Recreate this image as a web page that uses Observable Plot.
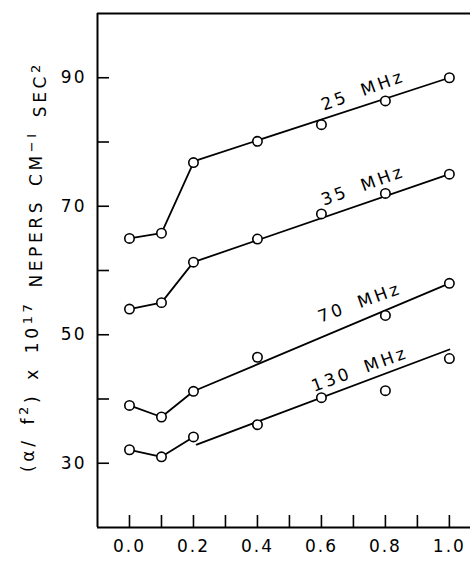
<!DOCTYPE html>
<html>
<head>
<meta charset="utf-8">
<script src="https://cdn.jsdelivr.net/npm/d3@7"></script>
<script src="https://cdn.jsdelivr.net/npm/@observablehq/plot@0.6"></script>
<style>
  html, body { margin: 0; padding: 0; background: #fff; }
  #chart svg { display: block; }
</style>
</head>
<body>
<div id="chart"></div>
<script>
// ---- data ----
const xValues = [0.0, 0.1, 0.2, 0.4, 0.6, 0.8, 1.0];
const mhz25  = [65.0, 65.8, 76.8, 80.1, 82.7, 86.4, 90.0];
const mhz35  = [54.0, 55.0, 61.3, 64.9, 68.8, 72.0, 75.0];
const mhz70  = [39.0, 37.2, 41.2, 46.5, null, 53.0, 58.0];
const mhz130 = [32.1, 31.0, 34.1, 36.0, 40.2, 41.3, 46.3];
const seriesNames = ["25 MHz", "35 MHz", "70 MHz", "130 MHz"];

// fitted straight lines (start x, start y, end x, end y)
const fitX1 = [0.2, 0.2, 0.2, 0.21];
const fitY1 = [77.0, 61.3, 41.2, 32.9];
const fitX2 = [1.0, 1.0, 1.0, 1.0];
const fitY2 = [90.0, 75.0, 58.0, 47.7];

// label positions (centre) for the rotated series labels
const labelX = [0.73, 0.73, 0.72, 0.72];
const labelY = [88.0, 73.2, 55.0, 44.6];

const xTickValues = [0, 0.1, 0.2, 0.3, 0.4, 0.5, 0.6, 0.7, 0.8, 0.9, 1.0];
const xTickLabels = [0, 0.2, 0.4, 0.6, 0.8, 1.0];
const yTickValues = [30, 40, 50, 60, 70, 80, 90];
const yTickLabels = [30, 50, 70, 90];
// y title pieces: [text, isSuperscript]
const yTitleParts = [["(\u03b1/ f", 0], ["2", 1], [") x 10", 0], ["17", 1], [" NEPERS CM", 0], ["\u2212I", 1], [" SEC", 0], ["2", 1]];
const yAxisLabel = yTitleParts.map(p => p[0]).join("");

// ---- build tables ----
const allSeries = [mhz25, mhz35, mhz70, mhz130];
const points = [];
const kinks = [];
allSeries.forEach((vals, s) => {
  vals.forEach((v, i) => {
    if (v == null) return;
    points.push({series: seriesNames[s], x: xValues[i], y: v});
    if (i <= 2) kinks.push({series: seriesNames[s], x: xValues[i], y: v});
  });
});
const fits = [];
seriesNames.forEach((name, s) => {
  fits.push({series: name, x: fitX1[s], y: fitY1[s]});
  fits.push({series: name, x: fitX2[s], y: fitY2[s]});
});
const labels = seriesNames.map((name, s) => ({text: name, x: labelX[s], y: labelY[s]}));

const font = "'DejaVu Sans', sans-serif";

const chart = Plot.plot({
  width: 470,
  height: 568,
  marginLeft: 97,
  marginRight: 0,
  marginTop: 13,
  marginBottom: 41,
  style: {fontFamily: font, fontSize: "16px", color: "#000", background: "#fff"},
  x: {domain: [-0.1, 1.066], axis: null},
  y: {domain: [20, 100], axis: null},
  marks: [
    // frame lines
    Plot.ruleX([-0.1], {stroke: "#000", strokeWidth: 2}),
    Plot.ruleY([20], {stroke: "#000", strokeWidth: 2}),
    Plot.ruleY([100], {stroke: "#000", strokeWidth: 2}),
    // inward ticks
    Plot.axisY(yTickValues, {tickSize: -12, fill: "none", label: null, stroke: "#000", strokeWidth: 1.6}),
    Plot.axisX(xTickValues, {tickSize: -12, fill: "none", label: null, stroke: "#000", strokeWidth: 1.6}),
    // tick labels
    Plot.axisY(yTickLabels, {tickSize: 0, tickPadding: 11, label: null, fontSize: 17, fill: "#000"}),
    Plot.axisX(xTickLabels, {tickSize: 0, tickPadding: 12, label: null, fontSize: 17, fill: "#000", tickFormat: d3.format(".1f")}),
    // y-axis title
    Plot.text([yAxisLabel], {frameAnchor: "left", textAnchor: "middle", dx: -69, dy: -4, rotate: -90, text: d => d, fontSize: 17, fill: "#000"}),
    // lines
    Plot.line(kinks, {x: "x", y: "y", z: "series", stroke: "#000", strokeWidth: 1.8}),
    Plot.line(fits, {x: "x", y: "y", z: "series", stroke: "#000", strokeWidth: 1.8}),
    // circles
    Plot.dot(points, {x: "x", y: "y", r: 4.7, fill: "#fff", stroke: "#000", strokeWidth: 1.6}),
    // series labels
    Plot.text(labels, {x: "x", y: "y", text: "text", rotate: -20, fontSize: 17, fill: "#000"})
  ]
});

document.getElementById("chart").appendChild(chart);
const svg = d3.select(chart);
svg.selectAll("text").attr("letter-spacing", "2px");
svg.selectAll("text").filter(function () { return seriesNames.includes(this.textContent); })
  .attr("letter-spacing", "3px").attr("word-spacing", "6px");
svg.selectAll("text").filter(function () { return this.textContent === yAxisLabel; })
  .each(function () {
    const t = d3.select(this);
    t.text(null).attr("letter-spacing", "3.6px").attr("word-spacing", "4px");
    let prevSup = 0;
    yTitleParts.forEach(([s, sup]) => {
      const sp = t.append("tspan").text(s);
      if (sup && !prevSup) sp.attr("dy", "-0.45em").attr("font-size", "13px");
      else if (sup) sp.attr("font-size", "13px");
      if (!sup && prevSup) sp.attr("dy", "0.58em");
      prevSup = sup;
    });
  });
</script>
</body>
</html>
